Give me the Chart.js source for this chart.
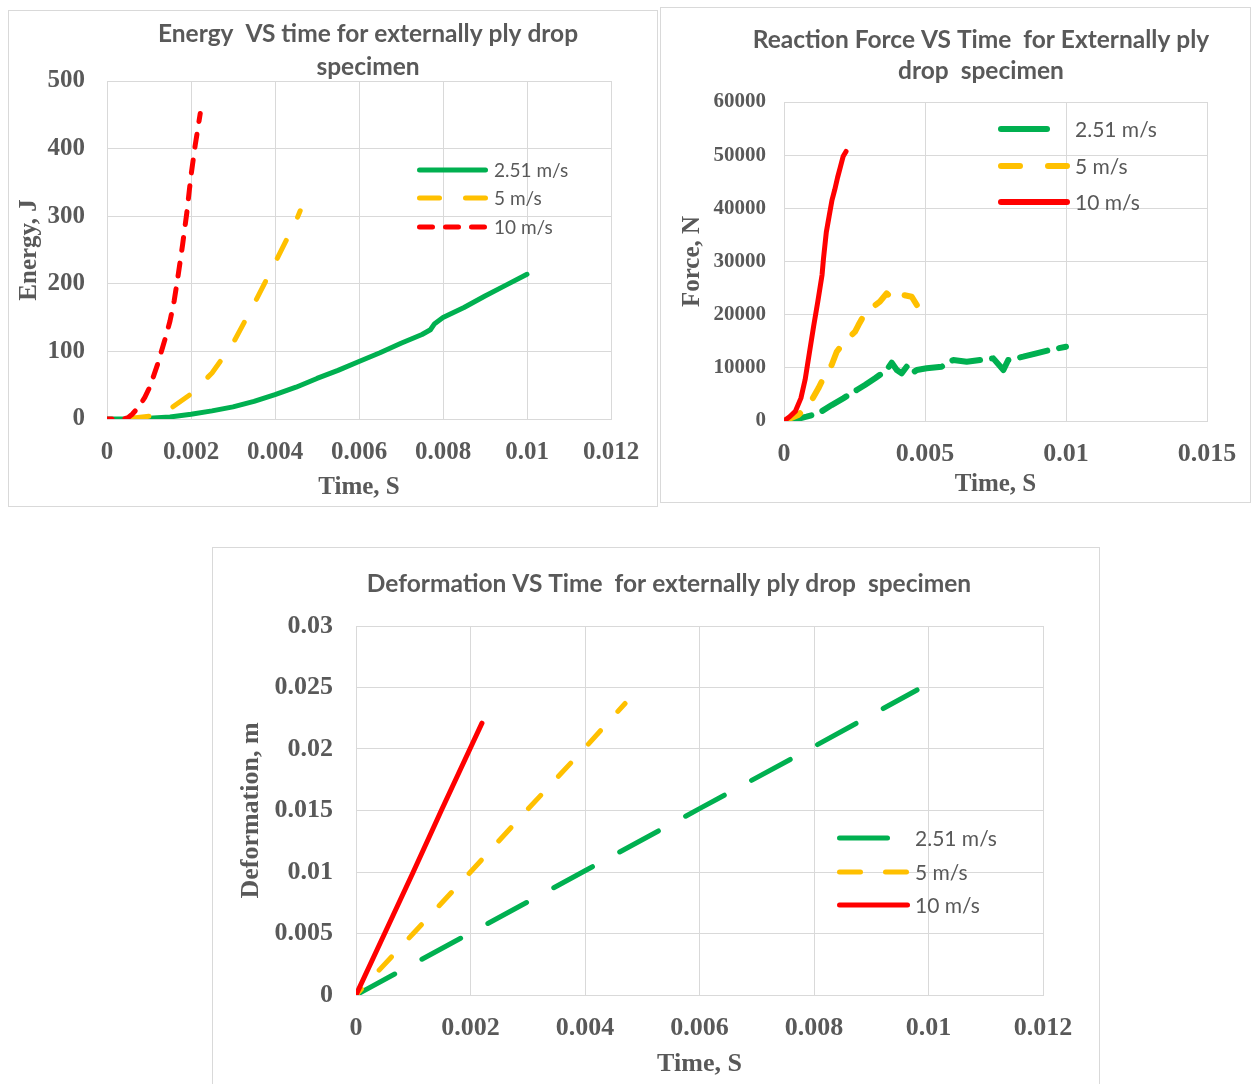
<!DOCTYPE html>
<html><head><meta charset="utf-8">
<script src="https://cdn.jsdelivr.net/npm/chart.js@4.4.1/dist/chart.umd.min.js"></script>
<style>
html,body{margin:0;padding:0;background:#fff;width:1251px;height:1084px;overflow:hidden;}
.box{position:absolute;border:1px solid #d9d9d9;box-sizing:border-box;background:#fff;}
.box canvas{position:absolute;left:0;top:0;}
</style></head><body>
<div class="box" style="left:8px;top:10px;width:650px;height:497px;"><canvas id="c1" width="648" height="495"></canvas></div>
<div class="box" style="left:660px;top:7px;width:591px;height:496px;"><canvas id="c2" width="589" height="494"></canvas></div>
<div class="box" style="left:212px;top:547px;width:888px;height:540px;"><canvas id="c3" width="886" height="536"></canvas></div>
<script>
// ---------- DATA ----------
const seriesLabels = ['2.51 m/s', '5 m/s', '10 m/s'];

// Energy vs time
const energyTitle = ['Energy  VS time for externally ply drop', 'specimen'];
const energyT_251 = [0, 0.0005, 0.001, 0.0015, 0.002, 0.0025, 0.003, 0.0035, 0.004, 0.0045, 0.005, 0.0055, 0.006, 0.0065, 0.007, 0.0075, 0.0077, 0.0078, 0.008, 0.0085, 0.009, 0.0095, 0.01];
const energyE_251 = [0, 0, 1, 3, 7, 12, 18, 26, 36, 47, 60, 72, 85, 98, 112, 125, 132, 141, 150, 165, 182, 198, 214];
const energyT_5 = [0, 0.0005, 0.001, 0.0015, 0.002, 0.0025, 0.003, 0.0035, 0.004, 0.0045, 0.0046];
const energyE_5 = [0, 0.5, 4, 15, 37, 68, 112, 170, 231, 293, 308];
const energyT_10 = [0, 0.0004, 0.0005, 0.0006, 0.0007, 0.0008, 0.0009, 0.001, 0.0011, 0.0012, 0.0013, 0.0014, 0.0015, 0.0016, 0.0017, 0.0018, 0.0019, 0.002, 0.0021, 0.00222];
const energyE_10 = [0, 0, 2, 7, 14, 22, 32, 45, 62, 80, 101, 122, 145, 175, 215, 258, 305, 360, 405, 452];
const energyXTicks = ['0', '0.002', '0.004', '0.006', '0.008', '0.01', '0.012'];
const energyYTicks = ['0', '100', '200', '300', '400', '500'];

// Reaction force vs time
const forceTitle = ['Reaction Force VS Time  for Externally ply', 'drop  specimen'];
const forceT_251 = [0, 0.00033, 0.0008, 0.00122, 0.00169, 0.0021, 0.00258, 0.00287, 0.00323, 0.00364, 0.00382, 0.004, 0.00417, 0.00435, 0.00453, 0.00471, 0.00506, 0.00559, 0.006, 0.00648, 0.00695, 0.00742, 0.00778, 0.00795, 0.00848, 0.00895, 0.00943, 0.01];
const forceF_251 = [0, 190, 810, 1440, 3000, 4260, 5830, 6770, 8030, 9590, 10960, 9590, 8970, 10210, 8970, 9590, 9910, 10210, 11470, 11150, 11470, 11780, 9590, 11470, 12100, 12730, 13350, 13970];
const forceT_5 = [0, 0.00051, 0.00092, 0.00122, 0.00151, 0.00169, 0.00187, 0.00205, 0.00222, 0.00252, 0.00264, 0.00287, 0.00317, 0.0034, 0.00364, 0.00388, 0.00423, 0.00453, 0.00471];
const forceF_5 = [0, 1130, 3330, 6150, 9280, 10530, 13030, 14290, 15230, 16800, 18050, 20250, 21500, 22440, 24010, 22760, 23700, 23380, 21820];
const forceT_10 = [0, 0.0002, 0.0004, 0.0006, 0.00075, 0.0009, 0.00105, 0.0012, 0.00135, 0.0014, 0.0015, 0.0016, 0.0017, 0.0018, 0.0019, 0.002, 0.0021, 0.0022];
const forceF_10 = [0, 800, 1800, 4300, 7800, 12800, 17800, 22500, 27500, 30500, 35500, 38500, 41500, 43500, 45800, 47800, 49800, 50700];
const forceXTicks = ['0', '0.005', '0.01', '0.015'];
const forceYTicks = ['0', '10000', '20000', '30000', '40000', '50000', '60000'];

// Deformation vs time
const deformTitle = ['Deformation VS Time  for externally ply drop  specimen'];
const deformT_251 = [0, 0.002, 0.004, 0.006, 0.008, 0.0098];
const deformD_251 = [0, 0.00505, 0.0101, 0.01515, 0.0202, 0.0248];
const deformT_5 = [0, 0.001, 0.002, 0.003, 0.004, 0.0047];
const deformD_5 = [0, 0.005, 0.01, 0.0151, 0.0201, 0.0237];
const deformT_10 = [0, 0.0005, 0.001, 0.0015, 0.002, 0.0022];
const deformD_10 = [0, 0.005, 0.01, 0.0151, 0.0201, 0.0221];
const deformXTicks = ['0', '0.002', '0.004', '0.006', '0.008', '0.01', '0.012'];
const deformYTicks = ['0', '0.005', '0.01', '0.015', '0.02', '0.025', '0.03'];

// ---------- STYLE ----------
const GREEN = '#00b050', YELLOW = '#ffc000', RED = '#ff0000';
const GRAY = '#595959', GRID = '#d9d9d9';
const SERIF = "'Liberation Serif','Times New Roman',serif";
const SANS = "Lato, 'Open Sans', sans-serif";

const pts = (xs, ys) => xs.map((x, i) => ({x, y: ys[i]}));

function decor(cfg) {
  return {
    id: 'decor',
    afterDatasetsDraw(chart) {
      const ctx = chart.ctx;
      ctx.save();
      // title
      ctx.fillStyle = GRAY;
      ctx.font = cfg.titleFont;
      ctx.textAlign = 'center';
      ctx.textBaseline = 'middle';
      cfg.title.forEach((t, i) => ctx.fillText(t, cfg.titleX, cfg.titleY + i * cfg.titleGap));
      // legend
      cfg.legend.forEach(it => {
        const ds = chart.data.datasets[it.ds];
        ctx.strokeStyle = ds.borderColor;
        ctx.lineWidth = it.w;
        ctx.lineCap = 'round';
        ctx.setLineDash(it.dash);
        ctx.beginPath();
        ctx.moveTo(it.x1, it.y);
        ctx.lineTo(it.x2, it.y);
        ctx.stroke();
        ctx.setLineDash([]);
        ctx.fillStyle = GRAY;
        ctx.font = cfg.legendFont;
        ctx.textAlign = 'left';
        ctx.textBaseline = 'middle';
        ctx.fillText(ds.label, cfg.legendTextX, it.y + 1);
      });
      ctx.restore();
    }
  };
}

function lineDs(label, data, color, width, dash, order, dashOffset) {
  return {label, data, borderColor: color, backgroundColor: color, borderWidth: width,
    borderDash: dash, borderDashOffset: dashOffset || 0, borderCapStyle: 'round', borderJoinStyle: 'round',
    pointRadius: 0, pointHoverRadius: 0, tension: 0, fill: false, order};
}

function makeChart(id, o) {
  return new Chart(document.getElementById(id), {
    type: 'line',
    data: {datasets: o.datasets},
    options: {
      responsive: false, animation: false, devicePixelRatio: 1,
      layout: {padding: o.padding},
      plugins: {legend: {display: false}, title: {display: false}, tooltip: {enabled: false}},
      scales: {
        x: {
          type: 'linear', min: o.xMin, max: o.xMax,
          afterFit: s => { s.height = o.xH; },
          grid: {color: GRID, lineWidth: 1, drawTicks: true, tickLength: o.xTickPad - 2, tickColor: 'rgba(0,0,0,0)'},
          border: {color: GRID, width: 1},
          ticks: {stepSize: o.xStep, autoSkip: false, maxRotation: 0, padding: 2, color: GRAY,
            font: {family: SERIF, weight: 'bold', size: o.xTickSize},
            callback: v => o.xLabels[Math.round((v - o.xMin) / o.xStep)]},
          title: {display: true, text: 'Time, S', color: GRAY, padding: {top: 0, bottom: o.xTitlePad},
            font: {family: SERIF, weight: 'bold', size: o.axisTitleSize, lineHeight: 1.2}}
        },
        y: {
          type: 'linear', min: o.yMin, max: o.yMax,
          afterFit: s => { s.width = o.yW; },
          grid: {color: GRID, lineWidth: 1, drawTicks: false},
          border: {color: GRID, width: 1},
          ticks: {stepSize: o.yStep, autoSkip: false, padding: o.yTickPad, color: GRAY,
            font: {family: SERIF, weight: 'bold', size: o.yTickSize},
            callback: v => o.yLabels[Math.round((v - o.yMin) / o.yStep)]},
          title: {display: true, text: o.yTitle, color: GRAY, padding: {top: o.yTitlePad, bottom: 0},
            font: {family: SERIF, weight: 'bold', size: o.axisTitleSize, lineHeight: 1.2}}
        }
      }
    },
    plugins: [decor(o.decor)]
  });
}

// Chart 1: Energy
makeChart('c1', {
  datasets: [
    lineDs(seriesLabels[0], pts(energyT_251, energyE_251), GREEN, 5, [], 2),
    lineDs(seriesLabels[1], pts(energyT_5, energyE_5), YELLOW, 5, [20, 26], 1, 24),
    lineDs(seriesLabels[2], pts(energyT_10, energyE_10), RED, 5, [13, 13], 0, 8)
  ],
  padding: {top: 70, right: 46, left: 0, bottom: 0},
  xMin: 0, xMax: 0.012, xStep: 0.002, xLabels: energyXTicks, xH: 87, xTickPad: 19, xTickSize: 25, xTitlePad: 3,
  yMin: 0, yMax: 500, yStep: 100, yLabels: energyYTicks, yW: 98, yTickPad: 22, yTickSize: 25, yTitlePad: 6,
  yTitle: 'Energy, J', axisTitleSize: 25,
  decor: {
    title: energyTitle, titleFont: "bold 24.5px " + SANS, titleX: 359, titleY: 23, titleGap: 33,
    legendFont: "19px " + SANS, legendTextX: 485,
    legend: [
      {ds: 0, x1: 410.5, x2: 476.5, y: 159, w: 5, dash: []},
      {ds: 1, x1: 410.5, x2: 476.5, y: 187, w: 5, dash: [20, 26]},
      {ds: 2, x1: 410.5, x2: 476.5, y: 216, w: 5, dash: [13, 13]}
    ]
  }
});

// Chart 2: Force
makeChart('c2', {
  datasets: [
    lineDs(seriesLabels[0], pts(forceT_251, forceF_251), GREEN, 6, [28, 12], 2),
    lineDs(seriesLabels[1], pts(forceT_5, forceF_5), YELLOW, 6, [18, 20], 1),
    lineDs(seriesLabels[2], pts(forceT_10, forceF_10), RED, 5, [], 0)
  ],
  padding: {top: 94, right: 43, left: 0, bottom: 0},
  xMin: 0, xMax: 0.015, xStep: 0.005, xLabels: forceXTicks, xH: 81, xTickPad: 18, xTickSize: 26, xTitlePad: 2,
  yMin: 0, yMax: 60000, yStep: 10000, yLabels: forceYTicks, yW: 123, yTickPad: 18, yTickSize: 21, yTitlePad: 17,
  yTitle: 'Force, N', axisTitleSize: 25,
  decor: {
    title: forceTitle, titleFont: "bold 24.5px " + SANS, titleX: 320, titleY: 32, titleGap: 31,
    legendFont: "21px " + SANS, legendTextX: 414,
    legend: [
      {ds: 0, x1: 340, x2: 386, y: 121, w: 6, dash: []},
      {ds: 1, x1: 340, x2: 406, y: 158, w: 6, dash: [19, 28]},
      {ds: 2, x1: 340, x2: 406, y: 194, w: 6, dash: []}
    ]
  }
});

// Chart 3: Deformation
makeChart('c3', {
  datasets: [
    lineDs(seriesLabels[0], pts(deformT_251, deformD_251), GREEN, 5, [44, 31], 2),
    lineDs(seriesLabels[1], pts(deformT_5, deformD_5), YELLOW, 5, [18, 26], 1, 10),
    lineDs(seriesLabels[2], pts(deformT_10, deformD_10), RED, 5, [], 0)
  ],
  padding: {top: 78, right: 56, left: 0, bottom: 0},
  xMin: 0, xMax: 0.012, xStep: 0.002, xLabels: deformXTicks, xH: 89, xTickPad: 18, xTickSize: 26, xTitlePad: 4,
  yMin: 0, yMax: 0.03, yStep: 0.005, yLabels: deformYTicks, yW: 143, yTickPad: 23, yTickSize: 26, yTitlePad: 23,
  yTitle: 'Deformation, m', axisTitleSize: 26,
  decor: {
    title: deformTitle, titleFont: "bold 24.5px " + SANS, titleX: 456, titleY: 36, titleGap: 31,
    legendFont: "21px " + SANS, legendTextX: 702,
    legend: [
      {ds: 0, x1: 626.5, x2: 674.5, y: 290, w: 5, dash: []},
      {ds: 1, x1: 626.5, x2: 694.5, y: 324, w: 5, dash: [21, 25]},
      {ds: 2, x1: 626.5, x2: 694.5, y: 357, w: 5, dash: []}
    ]
  }
});
</script>
</body></html>
